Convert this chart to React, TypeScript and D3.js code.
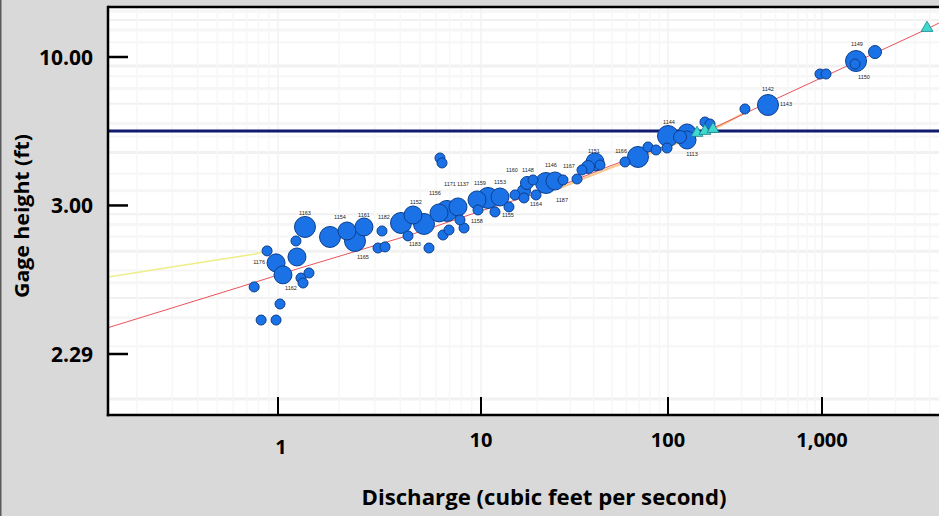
import React from 'react';
import * as d3 from 'd3';

const W = 939;
const H = 516;

// Field measurements: discharge (cfs), gage height (ft), weight class
const discharge = [
  0.762, 0.825, 0.978, 1.023, 0.883, 0.978, 1.058, 1.24, 1.226, 1.358,
  1.298, 1.421, 1.328, 1.804, 2.187, 2.395, 2.652, 3.253, 3.109, 3.366,
  4.036, 4.624, 5.239, 4.369, 5.544, 6.281, 6.426, 6.499, 6.957, 8.249,
  6.8, 7.702, 6.211, 7.88, 9.557, 10.9, 12.64, 9.666, 11.88, 14.11,
  15.2, 16.98, 17.62, 22.27, 24.87, 27.45, 16.98, 19.69, 32.62, 34.68,
  37.35, 40.71, 43.29, 58.9, 69.1, 78.2, 86.3, 100, 119.7, 132.9,
  132.9, 173.9, 187.4, 316, 446, 970, 1062, 1663, 1638, 2209,
  98.8, 18.97,
];
const gageHeight = [
  2.435, 2.345, 2.345, 2.383, 2.602, 2.536, 2.481, 2.567, 2.667, 2.777,
  2.468, 2.489, 2.449, 2.696, 2.743, 2.667, 2.777, 2.743, 2.62, 2.627,
  2.813, 2.892, 2.804, 2.704, 2.62, 3.852, 3.731, 2.711, 2.751, 2.768,
  2.936, 2.982, 2.914, 2.842, 3.07, 3.097, 3.11, 2.947, 2.925, 2.982,
  3.139, 3.198, 3.327, 3.327, 3.362, 3.38, 3.097, 3.139, 3.398, 3.575,
  3.639, 3.754, 3.684, 3.754, 3.878, 4.156, 4.068, 4.515, 4.48, 4.625,
  4.377, 5.07, 4.983, 5.705, 5.927, 8.204, 8.204, 9.532, 9.201, 10.62,
  4.126, 3.38,
];
const weight = [
  1, 1, 1, 1, 1, 3, 3, 3, 1, 4,
  1, 1, 1, 4, 3, 4, 3, 1, 1, 1,
  4, 3, 4, 1, 1, 1, 1, 1, 1, 1,
  4, 3, 3, 1, 3, 4, 3, 1, 1, 1,
  1, 2, 2, 4, 3, 1, 1, 1, 1, 1,
  2, 3, 1, 1, 4, 1, 1, 4, 2, 3,
  3, 1, 1, 1, 4, 1, 1, 4, 1, 2,
  1, 1,
];

// Measurement number annotations
const labelText = [
  '1163', '1176', '1162', '1154', '1161', '1182', '1165', '1183', '1152', '1156',
  '1171', '1137', '1159', '1153', '1158', '1155', '1160', '1148', '1146', '1167',
  '1164', '1187', '1151', '1166', '1144', '1113', '1142', '1143', '1149', '1150',
];
const labelQ = [
  1.358, 0.806, 1.159, 2.02, 2.652, 3.328, 2.622, 4.73, 4.784, 5.935,
  7.036, 8.155, 9.888, 12.64, 9.557, 13.94, 14.65, 17.84, 23.68, 29.55,
  19.69, 27.12, 40.21, 56.1, 101.5, 143.2, 446, 584, 1688, 1874,
];
const labelGH = [
  2.914, 2.541, 2.431, 2.872, 2.892, 2.872, 2.567, 2.646, 3.044, 3.168,
  3.31, 3.31, 3.327, 3.344, 2.832, 2.892, 3.575, 3.575, 3.684, 3.662,
  3.018, 3.07, 4.039, 4.039, 5.07, 3.957, 6.967, 5.985, 11.73, 7.933,
];

// Indirect / provisional measurements (triangles)
const triQ = [154.3, 173.9, 196, 4806];
const triGH = [4.625, 4.7, 4.778, 14.39];

// Rating curves
const ratingQ = [0.144, 0.65, 1.284, 4.468, 10, 26.46, 48.96, 100, 217.6, 648, 1765, 4806, 5750];
const ratingGH = [2.33, 2.435, 2.511, 2.711, 2.936, 3.277, 3.662, 4.217, 4.941, 6.823, 9.646, 14.2, 15.37];
const shiftQ = [26.46, 48.96, 100, 217.6, 330.8];
const shiftGH = [3.244, 3.618, 4.156, 4.9, 5.599];
const lowQ = [0.144, 0.77, 0.913];
const lowGH = [2.472, 2.584, 2.608];

const referenceGH = 4.7;

const xTicks = [1, 10, 100, 1000];
const xTickLabels = ['1', '10', '100', '1,000'];
const yTicks = [2.29, 3.0, 10.0];
const yTickLabels = ['2.29', '3.00', '10.00'];
const yGridValues = [2.25, 2.3, 2.35, 2.4, 2.45, 2.5, 2.6, 2.7, 2.8, 2.9, 3.2, 3.5, 4, 4.5, 5, 6, 7, 8, 9, 12, 14, 16, 18];

const GH_OFFSET = 2.21;

const L = 108;
const R = 939;
const T = 7;
const B = 415;

export default function App() {
  const x = d3
    .scaleLog()
    .domain([0.144, 1, 10, 100, 1000, 5750])
    .range([L, 278, 481, 668, 822, R]);
  const yLog = d3
    .scaleLog()
    .domain([2.29 - GH_OFFSET, 10 - GH_OFFSET])
    .range([354, 57]);
  const y = (gh: number) => yLog(gh - GH_OFFSET);

  const rScale = d3.scaleOrdinal<number, number>().domain([1, 2, 3, 4]).range([5, 6.5, 9, 10.5]);

  const line = (qs: number[], ghs: number[]) =>
    d3
      .line<number>()
      .x((_, i) => x(qs[i]))
      .y((_, i) => y(ghs[i]))(qs.map((_, i) => i)) || '';

  const xGrid: number[] = [];
  for (let e = -1; e <= 3; e++) {
    for (let k = 1; k <= 9; k++) {
      const v = k * Math.pow(10, e);
      if (v > 0.144 && v < 5750) xGrid.push(v);
    }
  }

  const pts = discharge
    .map((q, i) => ({ q, gh: gageHeight[i], w: weight[i] }))
    .sort((a, b) => b.w - a.w);

  const tri = d3.symbol().type(d3.symbolTriangle).size(60);

  const font = "'Open Sans', 'DejaVu Sans', sans-serif";

  return (
    <svg
      width={W}
      height={H}
      viewBox={`0 0 ${W} ${H}`}
      style={{ position: 'absolute', left: 0, top: 0, display: 'block' }}
    >
      <defs>
        <clipPath id="plot">
          <rect x={L} y={T} width={R - L} height={B - T} />
        </clipPath>
      </defs>
      <rect x={0} y={0} width={W} height={H} fill="#d9d9d9" />
      <line x1={0.75} y1={0} x2={0.75} y2={H} stroke="#5a5a5a" strokeWidth={1.5} />
      <rect x={L} y={T} width={R - L + 10} height={B - T} fill="#ffffff" />

      <g clipPath="url(#plot)">
        {yGridValues.map((v, i) => (
          <line
            key={'yg' + i}
            x1={L}
            x2={R}
            y1={y(v)}
            y2={y(v)}
            stroke={i % 3 === 0 ? '#f1f1f1' : '#f6f6f6'}
            strokeWidth={i % 2 === 0 ? 3 : 2}
          />
        ))}
        {xGrid.map((v, i) => (
          <line
            key={'xg' + i}
            x1={x(v)}
            x2={x(v)}
            y1={T}
            y2={B}
            stroke={v === 1 || v === 10 || v === 100 || v === 1000 ? '#f2f2f2' : '#f7f7f7'}
            strokeWidth={1.5}
          />
        ))}
        <path d={line(lowQ, lowGH)} fill="none" stroke="#eeee88" strokeWidth={1.5} />
        <path d={line(shiftQ, shiftGH)} fill="none" stroke="#f7c98f" strokeWidth={2} />
        <path d={line(ratingQ, ratingGH)} fill="none" stroke="#e8535a" strokeWidth={1} />
        <line
          x1={L}
          x2={R}
          y1={y(referenceGH)}
          y2={y(referenceGH)}
          stroke="#101a6e"
          strokeWidth={3}
        />
        {pts.map((p, i) => (
          <circle
            key={'p' + i}
            cx={x(p.q)}
            cy={y(p.gh)}
            r={rScale(p.w)}
            fill="#1a72e6"
            stroke="#0c3f8f"
            strokeWidth={1}
          />
        ))}
        {triQ.map((q, i) => (
          <path
            key={'t' + i}
            d={tri() || ''}
            transform={`translate(${x(q)},${y(triGH[i])})`}
            fill="#3fd9cf"
            stroke="#1a7f8a"
            strokeWidth={0.8}
          />
        ))}
        {labelText.map((t, i) => (
          <text
            key={'l' + i}
            x={x(labelQ[i])}
            y={y(labelGH[i])}
            fontSize={5.5}
            fontFamily="'Liberation Sans', Arial, sans-serif"
            fill="#222"
            textAnchor="middle"
            dominantBaseline="central"
          >
            {t}
          </text>
        ))}
      </g>

      {/* frame */}
      <line x1={L} x2={R + 5} y1={T} y2={T} stroke="#000" strokeWidth={2.5} />
      <line x1={L} x2={L} y1={T - 1.25} y2={B + 1.25} stroke="#000" strokeWidth={2.5} />
      <line x1={L - 1.25} x2={R + 5} y1={B} y2={B} stroke="#000" strokeWidth={2.5} />

      {yTicks.map((v, i) => (
        <g key={'yt' + i}>
          <line x1={L} x2={L + 20} y1={y(v)} y2={y(v)} stroke="#000" strokeWidth={2.5} />
          <text
            x={93}
            y={y(v)}
            dy="0.36em"
            textAnchor="end"
            fontFamily={font}
            fontWeight={700}
            fontSize={21}
            fill="#000"
          >
            {yTickLabels[i]}
          </text>
        </g>
      ))}
      {xTicks.map((v, i) => (
        <g key={'xt' + i}>
          <line x1={x(v)} x2={x(v)} y1={B - 18} y2={B} stroke="#000" strokeWidth={2} />
          <text
            x={x(v) + (i === 0 ? 3 : 0)}
            y={i === 0 ? 447 : 440}
            dy="0.36em"
            textAnchor="middle"
            fontFamily={font}
            fontWeight={700}
            fontSize={20}
            fill="#000"
          >
            {xTickLabels[i]}
          </text>
        </g>
      ))}

      <text
        x={544}
        y={497}
        dy="0.36em"
        textAnchor="middle"
        fontFamily={font}
        fontWeight={700}
        fontSize={21}
        textLength={365}
        lengthAdjust="spacingAndGlyphs"
        fill="#000"
      >
        Discharge (cubic feet per second)
      </text>
      <text
        transform="translate(22,216) rotate(-90)"
        dy="0.36em"
        textAnchor="middle"
        fontFamily={font}
        fontWeight={700}
        fontSize={20}
        textLength={164}
        lengthAdjust="spacingAndGlyphs"
        fill="#000"
      >
        Gage height (ft)
      </text>
    </svg>
  );
}
